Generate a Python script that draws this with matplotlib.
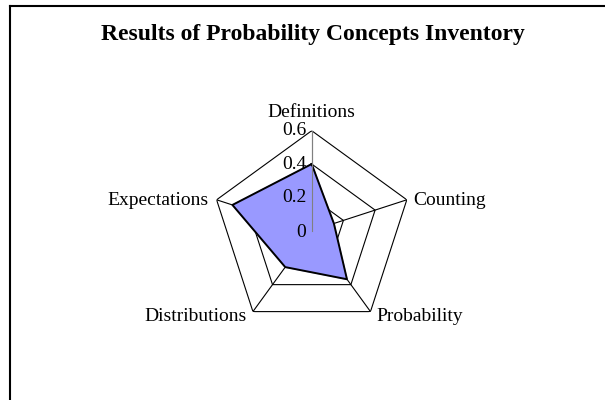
import numpy as np
import matplotlib
matplotlib.use("Agg")
from matplotlib import pyplot as plt
from matplotlib.lines import Line2D

# data
categories = ['Definitions', 'Counting', 'Probability', 'Distributions', 'Expectations']
scores = [0.40, 0.14, 0.36, 0.27, 0.50]
rings = [0.2, 0.4, 0.6]
ring_labels = ['0', '0.2', '0.4', '0.6']
ring_values = [0, 0.2, 0.4, 0.6]
title = 'Results of Probability Concepts Inventory'

plt.rcParams['font.family'] = ['Liberation Serif', 'DejaVu Serif']

fig = plt.figure(figsize=(6.05, 4.0), dpi=100)
# chart area frame (only left and top edges show in the crop)
fig.add_artist(Line2D([9.5 / 605, 9.5 / 605], [0, 1 - 5.5 / 400], color='black', lw=1.5,
                      transform=fig.transFigure))
fig.add_artist(Line2D([9.5 / 605, 1], [1 - 5.5 / 400, 1 - 5.5 / 400], color='black', lw=1.5,
                      transform=fig.transFigure))

fig.text(312.5 / 605, 1 - 34.5 / 400, title, ha='center', va='center',
         fontsize=17, fontweight='bold')

cx, cy, rad = 311.7, 230.7, 100.0
ax = fig.add_axes([(cx - rad) / 605, (400 - cy - rad) / 400, 2 * rad / 605, 2 * rad / 400],
                  projection='polar')
ax.set_theta_offset(np.pi / 2)
ax.set_theta_direction(-1)
ax.set_ylim(0, 0.6)
ax.set_xticks([])
ax.set_yticks([])
ax.grid(False)
ax.spines['polar'].set_visible(False)
ax.patch.set_visible(False)

n = len(categories)
theta = np.arange(n) * 2 * np.pi / n
theta_c = np.append(theta, theta[0])

for r in rings:
    ax.plot(theta_c, [r] * (n + 1), color='black', lw=0.8, zorder=1)
for i, t in enumerate(theta):
    ax.plot([t, t], [0, 0.6], color='#808080' if i == 0 else 'black', lw=0.8, zorder=1)

vals = scores + scores[:1]
ax.fill(theta_c, vals, color='#9999ff', zorder=2)
ax.plot(theta_c, vals, color='black', lw=1.4, zorder=3)
ax.plot([0, 0], [0, 0.6], color='#808080', lw=0.8, zorder=4)

for lab, v in zip(ring_labels, ring_values):
    ax.annotate(lab, xy=(0, v), xytext=(-4, -1.5 if v == 0 else 0), textcoords='offset points',
                ha='right', va='center', fontsize=14, zorder=5)

offsets = [(0, 7, 'center', 'bottom'), (4.5, -0.7, 'left', 'center'),
           (4, -3.2, 'left', 'center'), (-4.3, -3.2, 'right', 'center'),
           (-5.5, -0.7, 'right', 'center')]
for t, lab, (dx, dy, ha, va) in zip(theta, categories, offsets):
    ax.annotate(lab, xy=(t, 0.6), xytext=(dx, dy), textcoords='offset points',
                ha=ha, va=va, fontsize=14, annotation_clip=False)

fig.savefig('out.png', dpi=100)
